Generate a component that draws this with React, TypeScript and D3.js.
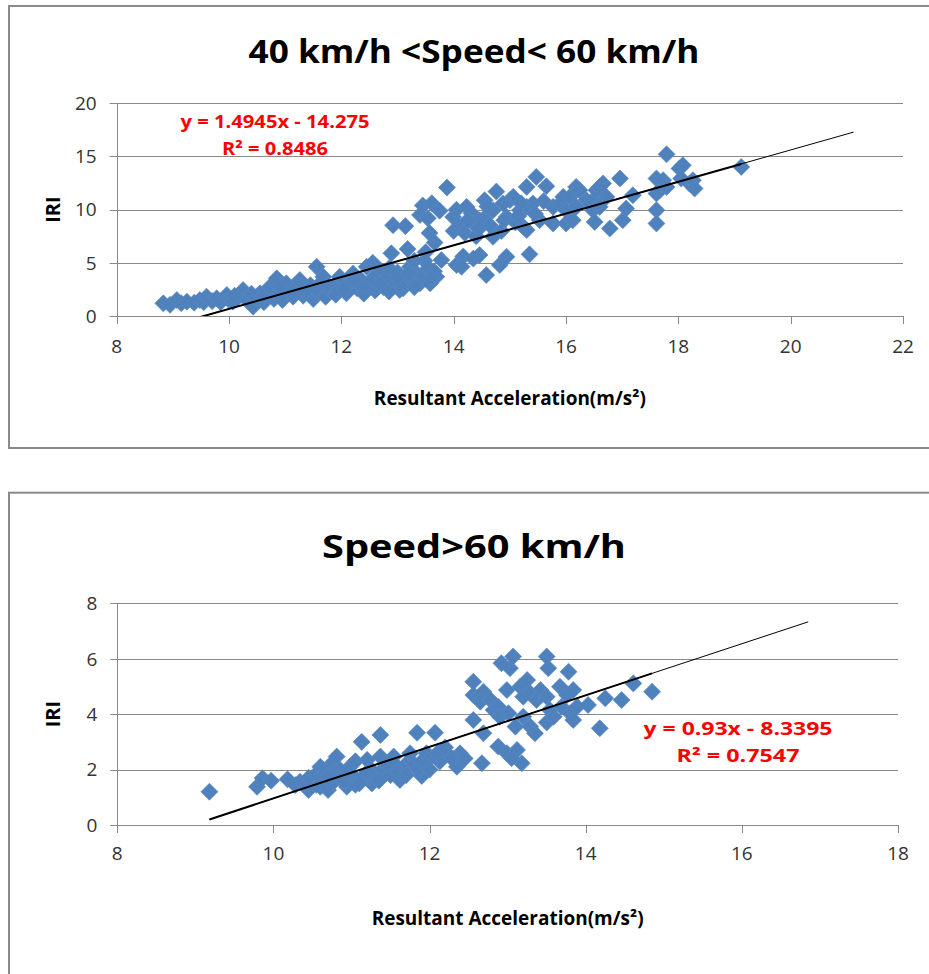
import { useEffect, useRef } from 'react';
import * as d3 from 'd3';

// 40 km/h < speed < 60 km/h
const topAccel = [
  8.83, 8.95, 9.07, 9.15, 9.25, 9.38, 9.48, 9.55, 9.6, 9.7, 9.78, 9.85, 9.96, 10.0, 10.07, 10.15,
  10.25, 10.3, 10.37, 10.43, 10.5, 10.55, 10.62, 10.68, 10.73, 10.8, 10.85, 10.9, 10.95, 11.02, 11.08,
  11.14, 11.2, 11.26, 11.32, 11.38, 11.45, 11.5, 11.56, 11.6, 11.65, 11.68, 11.72, 11.8, 11.85, 11.9,
  11.97, 12.02, 12.09, 12.15, 12.21, 12.28, 12.35, 12.4, 12.45, 12.5, 12.56, 12.6, 12.63, 12.7, 12.75,
  12.8, 12.85, 12.89, 12.92, 12.95, 13.0, 13.04, 13.1, 13.14, 13.18, 13.22, 13.28, 13.34, 13.4, 13.4,
  13.45, 13.48, 13.54, 13.58, 13.57, 13.61, 13.66, 13.69, 13.75, 13.78, 13.88, 13.99, 14.05, 14.11,
  14.17, 14.14, 14.23, 14.32, 14.35, 14.35, 14.46, 14.46, 14.55, 14.6, 14.58, 14.7, 14.7, 14.76, 14.82,
  14.88, 14.94, 14.94, 15.0, 15.06, 15.18, 15.24, 15.3, 15.3, 15.3, 15.35, 15.41, 15.47, 15.53, 15.65,
  15.77, 15.77, 15.89, 15.95, 16.0, 16.0, 16.07, 16.12, 16.18, 16.18, 16.24, 16.36, 16.48, 16.48, 16.51,
  16.54, 16.6, 16.6, 16.66, 16.72, 16.78, 16.96, 17.01, 17.07, 17.19, 17.61, 17.61, 17.61, 17.61, 17.67,
  17.73, 17.79, 17.79, 18.02, 18.05, 18.08, 18.2, 18.26, 18.29, 19.12,
  14.0, 14.2, 14.4, 14.45, 14.65, 14.85, 14.9, 15.1, 15.15, 15.45, 15.6, 14.25, 14.05, 14.6, 15.2,
  12.1, 12.25, 12.4, 12.55, 12.7, 12.85, 13.0, 13.1, 13.2, 13.3, 13.45, 13.55, 13.65, 13.6, 13.3, 13.5,
  10.1, 10.4, 10.6, 10.9, 11.1, 11.35, 11.55, 11.75, 11.95, 12.05,
];
const topIri = [
  1.19, 1.05, 1.5, 1.2, 1.35, 1.25, 1.5, 1.3, 1.82, 1.4, 1.66, 1.3, 1.97, 1.5, 1.35, 1.7,
  2.44, 1.6, 1.82, 0.88, 1.5, 2.13, 1.3, 1.9, 2.75, 1.6, 3.54, 2.2, 1.5, 3.07, 2.4,
  1.82, 2.6, 3.38, 1.9, 2.44, 2.9, 1.6, 4.63, 2.2, 3.2, 3.69, 1.8, 2.4, 2.75, 2.0,
  3.69, 2.9, 2.13, 3.2, 4.0, 2.6, 3.4, 2.1, 4.63, 3.0, 5.0, 2.4, 3.69, 4.2, 2.7,
  3.5, 4.5, 5.9, 8.54, 3.0, 4.1, 2.44, 3.5, 8.45, 6.3, 4.6, 3.2, 4.0, 3.07, 9.5,
  10.4, 5.2, 9.2, 3.07, 7.8, 10.6, 6.9, 3.69, 9.9, 5.26, 12.08, 9.32, 4.8, 8.39,
  5.6, 4.63, 10.26, 9.64, 5.4, 8.7, 9.01, 5.73, 10.89, 9.5, 3.85, 9.95, 7.45, 11.7, 4.8,
  10.58, 9.32, 5.57, 10.89, 11.2, 9.95, 8.39, 12.14, 10.26, 8.08, 5.8, 10.58, 13.08, 9.01, 12.2,
  10.26, 8.7, 10.58, 11.2, 9.95, 8.7, 11.2, 9.0, 12.14, 10.26, 11.83, 10.9, 10.89, 9.95, 8.85,
  11.83, 12.14, 10.26, 12.46, 11.2, 8.23, 12.93, 9.01, 10.11, 11.36, 12.93, 11.52, 9.95, 8.7, 11.83,
  12.77, 15.2, 12.14, 13.87, 12.93, 14.18, 12.46, 12.77, 11.99, 14.02,
  8.0, 7.8, 7.5, 8.2, 8.5, 8.0, 9.0, 8.8, 9.4, 9.6, 10.8, 9.0, 10.0, 10.3, 10.6,
  2.8, 3.3, 2.8, 3.5, 3.0, 2.3, 3.6, 2.6, 4.0, 2.7, 3.8, 4.5, 4.2, 3.5, 5.2, 6.0,
  1.9, 2.1, 1.8, 2.7, 2.1, 2.2, 2.6, 2.9, 2.4, 2.5,
];
const topXTicks = [8, 10, 12, 14, 16, 18, 20, 22];
const topYTicks = [0, 5, 10, 15, 20];

// speed > 60 km/h
const bottomAccel = [
  9.18, 9.79, 9.86, 9.97, 10.18, 10.28, 10.34, 10.45, 10.51, 10.6, 10.64, 10.7, 10.75, 10.81, 10.85,
  10.94, 10.98, 11.07, 11.13, 11.2, 11.26, 11.37, 11.37, 11.45, 11.54, 11.62, 11.71, 11.75, 11.84, 11.9,
  11.96, 12.07, 12.13, 12.26, 12.35, 12.39, 12.67, 12.56, 12.69, 12.56, 12.56, 12.69, 12.65, 12.78, 12.82,
  12.88, 12.92, 13.03, 13.07, 12.99, 12.88, 12.99, 13.12, 13.18, 13.05, 12.9, 13.01, 13.16, 13.25, 13.2,
  13.29, 13.1, 13.2, 13.29, 13.35, 13.5, 13.52, 13.42, 13.37, 13.5, 13.54, 13.5, 13.59, 13.78, 13.67,
  13.76, 13.84, 13.69, 13.8, 13.89, 13.84, 14.03, 14.18, 14.25, 14.46, 14.61, 14.85,
  10.4, 10.55, 10.65, 10.75, 10.8, 10.9, 11.0, 11.05, 11.15, 11.25, 11.3, 11.4, 11.5, 11.55, 11.65,
  11.8, 11.85, 12.0, 12.1, 12.2, 12.3, 12.45,
  10.45, 10.55, 10.7, 10.85, 10.95, 11.1, 11.2, 11.35, 11.45, 11.6, 11.7, 11.9, 12.0, 11.05, 10.6,
];
const bottomIri = [
  1.2, 1.38, 1.69, 1.6, 1.65, 1.44, 1.56, 1.26, 1.62, 1.38, 1.99, 1.26, 2.23, 2.47, 1.74,
  1.38, 2.1, 1.62, 3.0, 2.35, 1.5, 3.25, 2.47, 1.87, 2.47, 1.62, 2.23, 2.59, 3.33, 1.77,
  2.59, 3.33, 2.29, 2.47, 2.1, 2.59, 2.23, 3.79, 3.31, 5.17, 4.69, 4.81, 4.45, 4.51, 4.15,
  4.27, 5.84, 5.66, 6.08, 4.87, 2.83, 2.59, 2.71, 2.23, 2.41, 3.91, 4.03, 4.99, 5.23, 4.63,
  4.75, 3.55, 3.91, 3.55, 3.31, 6.08, 5.66, 4.87, 4.51, 4.63, 4.15, 3.7, 3.91, 5.53, 4.99,
  4.69, 4.87, 4.27, 4.03, 4.27, 3.79, 4.33, 3.49, 4.57, 4.51, 5.11, 4.81,
  1.5, 1.45, 1.55, 1.5, 1.9, 1.6, 1.8, 1.45, 1.7, 2.0, 1.75, 2.0, 1.8, 2.2, 2.0,
  2.2, 2.0, 2.4, 2.6, 2.8, 2.4, 2.4,
  1.7, 1.85, 1.7, 2.0, 1.9, 1.5, 1.9, 1.6, 2.2, 1.9, 1.8, 2.3, 2.0, 2.3, 2.1,
];
const bottomXTicks = [8, 10, 12, 14, 16, 18];
const bottomYTicks = [0, 2, 4, 6, 8];

const FONT = '"Open Sans", "Noto Sans", sans-serif';
const GRID = '#888888';
const MARKER = '#4f81bd';

interface Panel {
  title: string; titleW: number; titleY: number;
  accel: number[]; iri: number[];
  xTicks: number[]; yTicks: number[];
  slope: number; intercept: number; eq: string; r2: string;
  frameY: number; frameH: number;
  plot: { l: number; r: number; t: number; b: number };
  xLabelY: number; xTitleY: number;
  eqX: number; eqY: number; eqW: number; r2W: number;
}

const panels: Panel[] = [
  {
    title: '40 km/h <Speed< 60 km/h', titleW: 451, titleY: 63,
    accel: topAccel, iri: topIri, xTicks: topXTicks, yTicks: topYTicks,
    slope: 1.4945, intercept: -14.275, eq: 'y = 1.4945x - 14.275', r2: 'R² = 0.8486',
    frameY: 6, frameH: 442,
    plot: { l: 116.7, r: 903, t: 103.3, b: 316 },
    xLabelY: 353, xTitleY: 405,
    eqX: 275, eqY: 128, eqW: 189, r2W: 106,
  },
  {
    title: 'Speed>60 km/h', titleW: 304, titleY: 558,
    accel: bottomAccel, iri: bottomIri, xTicks: bottomXTicks, yTicks: bottomYTicks,
    slope: 0.93, intercept: -8.3395, eq: 'y = 0.93x - 8.3395', r2: 'R² = 0.7547',
    frameY: 492.7, frameH: 600,
    plot: { l: 117.3, r: 898, t: 603.3, b: 825 },
    xLabelY: 860, xTitleY: 925,
    eqX: 738, eqY: 735, eqW: 189, r2W: 123,
  },
];

function drawPanel(svg: d3.Selection<SVGSVGElement, unknown, null, undefined>, p: Panel, idx: number) {
  const g = svg.append('g');
  const { l, r, t, b } = p.plot;
  const x = d3.scaleLinear().domain(d3.extent(p.xTicks) as [number, number]).range([l, r]);
  const y = d3.scaleLinear().domain(d3.extent(p.yTicks) as [number, number]).range([b, t]);
  const cx = (l + r) / 2;

  // Frame
  g.append('rect')
    .attr('x', 9).attr('y', p.frameY).attr('width', 960).attr('height', p.frameH)
    .attr('fill', '#fff').attr('stroke', '#8a8a8a').attr('stroke-width', 2);

  // Title
  g.append('text')
    .attr('x', 474).attr('y', p.titleY).attr('text-anchor', 'middle')
    .attr('font-family', FONT).attr('font-weight', 700).attr('font-size', 33).attr('fill', '#000')
    .attr('textLength', p.titleW).attr('lengthAdjust', 'spacingAndGlyphs')
    .text(p.title);

  // Gridlines + y ticks
  p.yTicks.forEach(v => {
    const yy = Math.round(y(v)) + 0.5;
    g.append('line')
      .attr('x1', l - 7).attr('x2', r).attr('y1', yy).attr('y2', yy)
      .attr('stroke', GRID).attr('stroke-width', 1);
    g.append('text')
      .attr('x', l - 20).attr('y', y(v)).attr('dy', '0.36em').attr('text-anchor', 'end')
      .attr('font-family', FONT).attr('font-size', 19).attr('fill', '#333')
      .text(v);
  });

  // Axis lines + x ticks
  const xl = Math.round(l) + 0.5;
  g.append('line').attr('x1', xl).attr('x2', xl).attr('y1', t).attr('y2', b)
    .attr('stroke', GRID).attr('stroke-width', 1);
  p.xTicks.forEach(v => {
    const xx = Math.round(x(v)) + 0.5;
    g.append('line').attr('x1', xx).attr('x2', xx).attr('y1', b).attr('y2', b + 8)
      .attr('stroke', GRID).attr('stroke-width', 1);
    g.append('text')
      .attr('x', x(v)).attr('y', p.xLabelY).attr('text-anchor', 'middle')
      .attr('font-family', FONT).attr('font-size', 19).attr('fill', '#333')
      .text(v);
  });

  // Axis titles
  g.append('text')
    .attr('x', cx).attr('y', p.xTitleY).attr('text-anchor', 'middle')
    .attr('font-family', FONT).attr('font-weight', 700).attr('font-size', 19).attr('fill', '#000')
    .attr('textLength', 272).attr('lengthAdjust', 'spacingAndGlyphs')
    .text('Resultant Acceleration(m/s²)');
  g.append('text')
    .attr('transform', `translate(60,${(t + b) / 2}) rotate(-90)`).attr('text-anchor', 'middle')
    .attr('font-family', FONT).attr('font-weight', 700).attr('font-size', 20).attr('fill', '#000')
    .text('IRI');

  // Clip for the trend line
  const clipId = `plotClip${idx}`;
  g.append('clipPath').attr('id', clipId).append('rect')
    .attr('x', l).attr('y', t).attr('width', r - l).attr('height', b - t);

  // Markers
  const pts = p.accel.map((a, i) => ({ a, v: p.iri[i] }));
  const diamond = d3.symbol(d3.symbolSquare, 145)();
  g.append('g').selectAll('path').data(pts).join('path')
    .attr('d', diamond)
    .attr('transform', d => `translate(${x(d.a)},${y(d.v)}) rotate(45)`)
    .attr('fill', MARKER).attr('stroke', '#5a8ac4').attr('stroke-width', 0.6);

  // Linear trendline: data range (bold) + forward forecast (thin)
  const [xMin, xMax] = d3.extent(p.accel) as [number, number];
  const fit = (v: number) => p.slope * v + p.intercept;
  const line = d3.line<number>().x(v => x(v)).y(v => y(fit(v)));
  const tg = g.append('g').attr('clip-path', `url(#${clipId})`);
  tg.append('path').datum([xMin, xMax + 2]).attr('d', line)
    .attr('fill', 'none').attr('stroke', '#000').attr('stroke-width', 1);
  tg.append('path').datum([xMin, xMax]).attr('d', line)
    .attr('fill', 'none').attr('stroke', '#000').attr('stroke-width', 2);

  // Equation label
  g.append('text')
    .attr('x', p.eqX).attr('y', p.eqY).attr('text-anchor', 'middle')
    .attr('font-family', FONT).attr('font-weight', 700).attr('font-size', 18).attr('fill', '#ff0000')
    .attr('textLength', p.eqW).attr('lengthAdjust', 'spacingAndGlyphs')
    .text(p.eq);
  g.append('text')
    .attr('x', p.eqX).attr('y', p.eqY + 27).attr('text-anchor', 'middle')
    .attr('font-family', FONT).attr('font-weight', 700).attr('font-size', 18).attr('fill', '#ff0000')
    .attr('textLength', p.r2W).attr('lengthAdjust', 'spacingAndGlyphs')
    .text(p.r2);
}

export default function App() {
  const svgRef = useRef<SVGSVGElement>(null);

  useEffect(() => {
    if (!svgRef.current) return;
    const svg = d3.select(svgRef.current);
    svg.selectAll('*').remove();
    svg.append('rect').attr('width', 929).attr('height', 974).attr('fill', '#fff');
    panels.forEach((p, i) => drawPanel(svg, p, i));
  }, []);

  return (
    <div style={{ position: 'absolute', left: 0, top: 0 }}>
      <svg ref={svgRef} width={929} height={974} style={{ display: 'block' }} />
    </div>
  );
}
